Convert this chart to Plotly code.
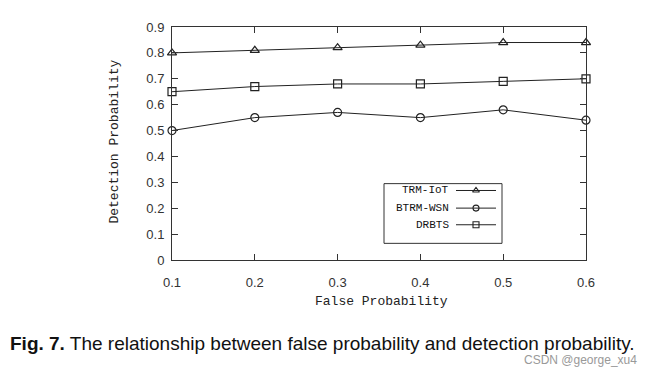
import plotly.graph_objects as go

false_prob = [0.1, 0.2, 0.3, 0.4, 0.5, 0.6]
trm_iot = [0.80, 0.81, 0.82, 0.83, 0.84, 0.84]
btrm_wsn = [0.50, 0.55, 0.57, 0.55, 0.58, 0.54]
drbts = [0.65, 0.67, 0.68, 0.68, 0.69, 0.70]
series_names = ["TRM-IoT", "BTRM-WSN", "DRBTS"]
series_symbols = ["triangle-up-open", "circle-open", "square-open"]
y_ticks = [0, 0.1, 0.2, 0.3, 0.4, 0.5, 0.6, 0.7, 0.8, 0.9]

OFF = 8  # page body margin
W, H = 650, 373
L, R, T, B = 164, 72, 14, 121
pw, ph = W - L - R, H - T - B

def px(x):
    return (x - OFF - L) / pw

def py(y):
    return (H - B - (y - OFF)) / ph

fig = go.Figure()
for name, vals, sym in zip(series_names, [trm_iot, btrm_wsn, drbts], series_symbols):
    fig.add_trace(go.Scatter(
        x=false_prob, y=vals, mode="lines+markers", name=name,
        line=dict(color="#222", width=1),
        marker=dict(symbol=sym, size=8, color="#222", line=dict(width=1.2, color="#222")),
        showlegend=False, cliponaxis=False,
    ))

# custom legend (text on left, sample on right)
mono = "Liberation Mono"
rows_y = [189, 207, 224]
fig.add_shape(type="rect", xref="paper", yref="paper",
              x0=px(384), x1=px(502), y0=py(243), y1=py(182),
              line=dict(color="#333", width=1), fillcolor="rgba(0,0,0,0)")
leg_x = [px(476)] * 3
leg_y = [py(r) for r in rows_y]
for name, sym, yy in zip(series_names, series_symbols, leg_y):
    fig.add_annotation(xref="paper", yref="paper", x=px(451), y=yy, text=name,
                       showarrow=False, xanchor="right", yanchor="middle",
                       font=dict(family=mono, size=11, color="#111"))
    fig.add_shape(type="line", xref="paper", yref="paper",
                  x0=px(456), x1=px(496), y0=yy, y1=yy,
                  line=dict(color="#222", width=1))
fig.add_trace(go.Scatter(
    x=leg_x, y=leg_y, mode="markers", xaxis="x2", yaxis="y2", showlegend=False,
    marker=dict(symbol=series_symbols, size=6, color="#222", line=dict(width=1.1, color="#222")),
))

axis_common = dict(showline=True, linecolor="#333", linewidth=1, mirror="ticks",
                   ticks="inside", ticklen=6, tickcolor="#333", showgrid=False,
                   zeroline=False, tickfont=dict(family="Liberation Sans", size=13, color="#333"))
fig.update_layout(
    width=W, height=H,
    margin=dict(l=L, r=R, t=T, b=B),
    paper_bgcolor="white", plot_bgcolor="white",
    xaxis=dict(range=[0.1, 0.6], tickvals=false_prob, ticktext=[f"{v:.1f}" for v in false_prob],
               ticklabelstandoff=10, **axis_common),
    yaxis=dict(range=[0, 0.9], tickvals=y_ticks, ticktext=["0"] + [f"{v:.1f}" for v in y_ticks[1:]],
               ticklabelstandoff=4, **axis_common),
    xaxis2=dict(range=[0, 1], overlaying="x", visible=False, anchor="y2"),
    yaxis2=dict(range=[0, 1], overlaying="y", visible=False, anchor="x2"),
    showlegend=False,
)

# axis titles
fig.add_annotation(xref="paper", yref="paper", x=px(381), y=py(302), text="False Probability",
                   showarrow=False, xanchor="center", yanchor="middle",
                   font=dict(family=mono, size=13, color="#222"))
fig.add_annotation(xref="paper", yref="paper", x=px(115), y=py(139), text="Detection Probability",
                   showarrow=False, xanchor="center", yanchor="middle", textangle=-90,
                   font=dict(family=mono, size=13, color="#222"))

fig.add_annotation(xref="paper", yref="paper", x=px(8), y=py(345),
                   text="<b>Fig. 7.</b> The relationship between false probability and detection probability.",
                   showarrow=False, xanchor="left", yanchor="middle",
                   font=dict(family="Liberation Sans", size=19, color="#111"))
fig.add_annotation(xref="paper", yref="paper", x=px(639), y=py(362),
                   text="CSDN @george_xu4", showarrow=False, xanchor="right", yanchor="middle",
                   font=dict(family="Liberation Sans", size=12, color="#999"))

fig.write_html("out.html")
